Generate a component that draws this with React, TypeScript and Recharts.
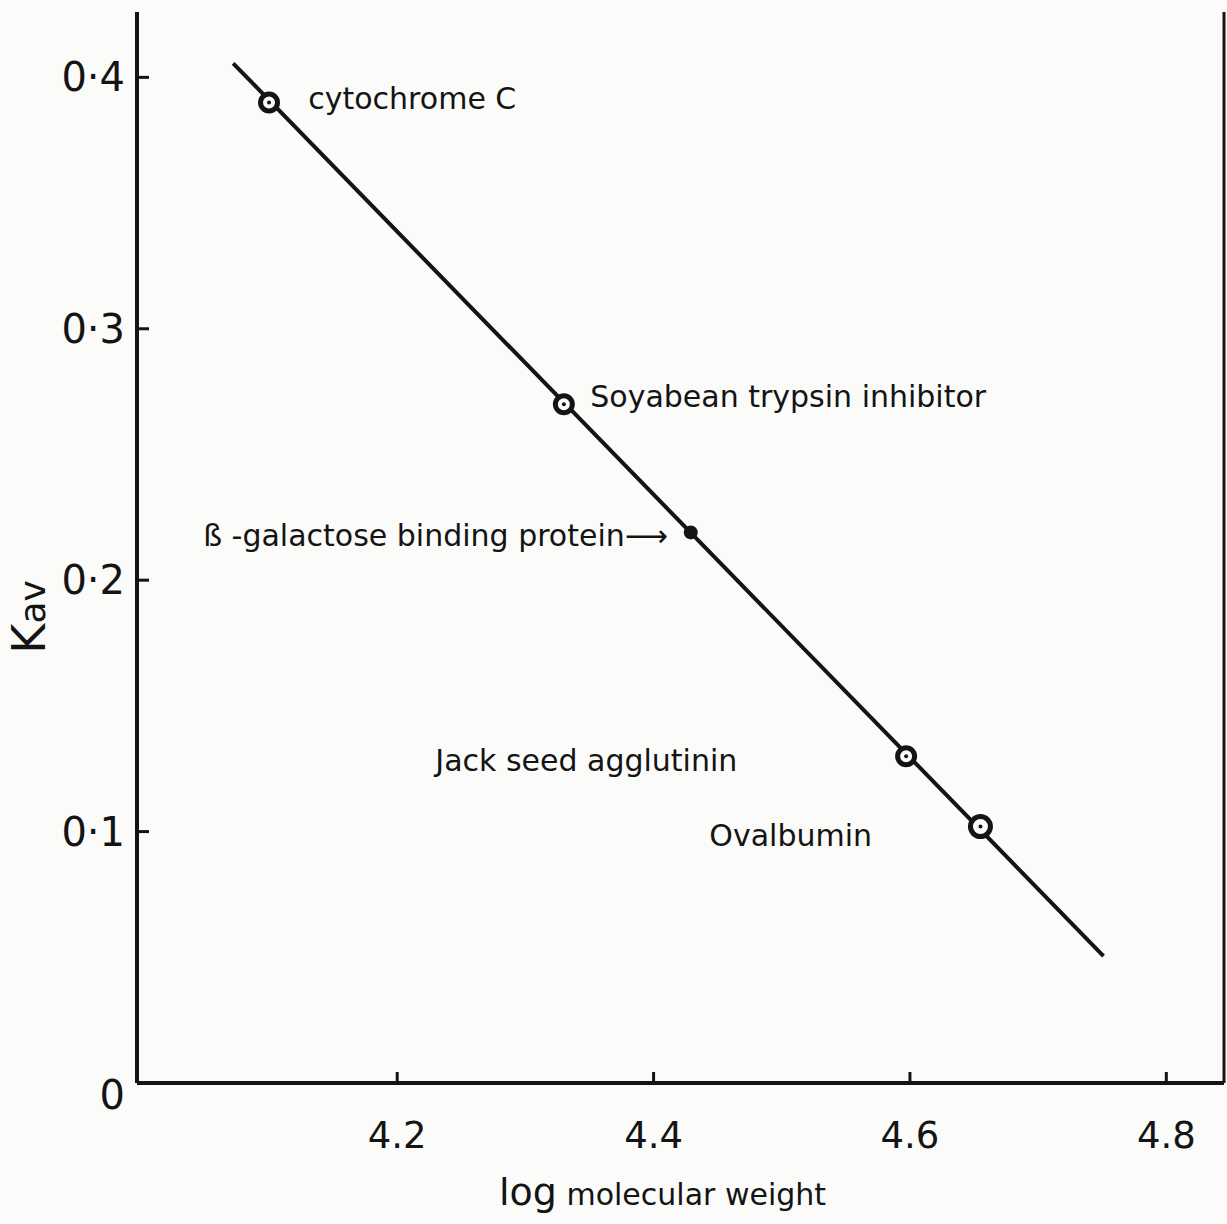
import React from "react";
import {
  ComposedChart,
  Line,
  Scatter,
  XAxis,
  YAxis,
  ReferenceLine,
} from "recharts";

// calibration standards (log MW, Kav)
const STANDARDS = [
  { x: 4.1, y: 0.39 },
  { x: 4.33, y: 0.27 },
  { x: 4.597, y: 0.13 },
  { x: 4.655, y: 0.102 },
];

// the unknown
const UNKNOWN = [{ x: 4.429, y: 0.219 }];

// drawn fit line ends
const FIT_LINE = [
  { x: 4.072, y: 0.4056 },
  { x: 4.751, y: 0.0505 },
];

// annotation anchors (left edge of text, vertical centre)
const NOTES = [
  { x: 4.1306, y: 0.3917, text: "cytochrome C" },
  { x: 4.3506, y: 0.2732, text: "Soyabean trypsin inhibitor" },
  { x: 4.0486, y: 0.2179, text: "ß -galactose binding protein\u27f6" },
  { x: 4.2297, y: 0.1284, text: "Jack seed agglutinin" },
  { x: 4.4435, y: 0.0986, text: "Ovalbumin" },
];

const X_TICKS = [4.2, 4.4, 4.6, 4.8];
const Y_TICKS = [0, 0.1, 0.2, 0.3, 0.4];
const Y_TICK_LABELS = ["0", "0\u00b71", "0\u00b72", "0\u00b73", "0\u00b74"];

const X_MIN = 3.997;
const X_MAX = 4.845;

const INK = "#141414";
const FONT = "'DejaVu Sans', sans-serif";

const XTick = (props: any) => {
  const { x, y, payload } = props;
  return (
    <g>
      <line x1={x} x2={x} y1={y} y2={y - 11} stroke={INK} strokeWidth={3} />
      <text
        x={x}
        y={y + 52}
        textAnchor="middle"
        dominantBaseline="central"
        fontSize={37}
        fontFamily={FONT}
        fill={INK}
      >
        {payload.value.toFixed(1)}
      </text>
    </g>
  );
};

const YTick = (props: any) => {
  const { x, y, payload } = props;
  const i = Y_TICKS.indexOf(payload.value);
  const isZero = payload.value === 0;
  return (
    <g>
      {!isZero && (
        <line x1={x} x2={x + 12} y1={y} y2={y} stroke={INK} strokeWidth={3} />
      )}
      <text
        x={x - 12}
        y={isZero ? y + 12 : y}
        textAnchor="end"
        dominantBaseline="central"
        fontSize={40}
        fontFamily={FONT}
        fill={INK}
      >
        {Y_TICK_LABELS[i]}
      </text>
    </g>
  );
};

const OpenMarker = (props: any) => {
  const { cx, cy, index } = props;
  const r = index === 3 ? 10 : 8.5;
  return (
    <g>
      <circle cx={cx} cy={cy} r={r} fill="#fbfbf9" stroke={INK} strokeWidth={5} />
      <circle cx={cx} cy={cy} r={2} fill={INK} />
    </g>
  );
};

const FilledMarker = (props: any) => (
  <circle cx={props.cx} cy={props.cy} r={7} fill={INK} />
);

const NoteText = (props: any) => (
  <text
    x={props.cx}
    y={props.cy}
    textAnchor="start"
    dominantBaseline="central"
    fontSize={30}
    fontFamily={FONT}
    fill={INK}
  >
    {props.payload.text}
  </text>
);

const XLabel = (props: any) => {
  const { viewBox } = props;
  const cx = viewBox.x + viewBox.width / 2 - 18;
  return (
    <text x={cx} y={1205} textAnchor="middle" fontFamily={FONT} fill={INK}>
      <tspan fontSize={38}>log</tspan>
      <tspan fontSize={30}> molecular weight</tspan>
    </text>
  );
};

const YLabel = () => (
  <text
    transform="translate(45,617) rotate(-90)"
    textAnchor="middle"
    fontFamily={FONT}
    fill={INK}
  >
    <tspan fontSize={46}>K</tspan>
    <tspan fontSize={36}>av</tspan>
  </text>
);

export default function App() {
  return (
    <div
      style={{
        position: "absolute",
        left: 0,
        top: 0,
        width: 1227,
        height: 1224,
        background: "#fbfbf9",
      }}
    >
      <ComposedChart
        width={1227}
        height={1224}
        margin={{ top: 12, right: 3, bottom: 0, left: 0 }}
      >
        <XAxis
          dataKey="x"
          type="number"
          domain={[X_MIN, X_MAX]}
          allowDataOverflow
          ticks={X_TICKS}
          tick={<XTick />}
          tickLine={false}
          tickSize={0}
          tickMargin={0}
          height={141}
          axisLine={{ stroke: INK, strokeWidth: 4 }}
          label={<XLabel />}
        />
        <XAxis
          xAxisId="top"
          orientation="top"
          type="number"
          domain={[X_MIN, X_MAX]}
          tick={false}
          tickLine={false}
          height={0}
          axisLine={{ stroke: INK, strokeWidth: 3 }}
        />
        <YAxis
          dataKey="y"
          type="number"
          domain={[0, 0.426]}
          allowDataOverflow
          ticks={Y_TICKS}
          tick={<YTick />}
          tickLine={false}
          tickSize={0}
          tickMargin={0}
          width={137}
          axisLine={{ stroke: INK, strokeWidth: 4 }}
          label={<YLabel />}
        />
        <ReferenceLine x={X_MAX} stroke={INK} strokeWidth={3} />
        <Line
          data={FIT_LINE}
          dataKey="y"
          stroke={INK}
          strokeWidth={4}
          dot={false}
          activeDot={false}
          isAnimationActive={false}
        />
        <Scatter
          data={STANDARDS}
          dataKey="y"
          shape={<OpenMarker />}
          isAnimationActive={false}
        />
        <Scatter
          data={UNKNOWN}
          dataKey="y"
          shape={<FilledMarker />}
          isAnimationActive={false}
        />
        <Scatter
          data={NOTES}
          dataKey="y"
          shape={<NoteText />}
          isAnimationActive={false}
        />
      </ComposedChart>
    </div>
  );
}
